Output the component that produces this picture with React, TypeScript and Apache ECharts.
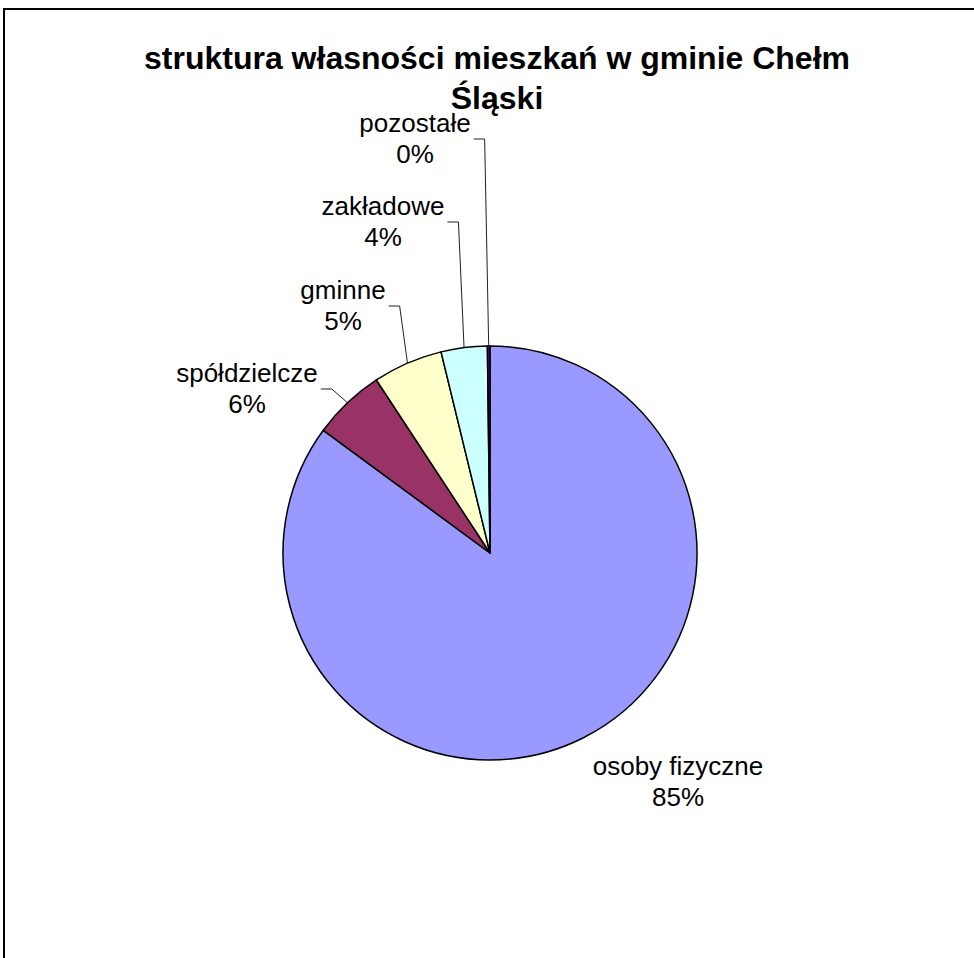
import React, { useEffect, useRef } from "react";
import * as echarts from "echarts";

const categories = ["osoby fizyczne", "spółdzielcze", "gminne", "zakładowe", "pozostałe"];
const shares = [85.1, 5.65, 5.45, 3.6, 0.2];
const colors = ["#9999FF", "#993366", "#FFFFCC", "#CCFFFF", "#660066"];
const titleText = "struktura własności mieszkań w gminie Chełm\nŚląski";

// label block centres (layout only)
const labelPos: number[][] = [
  [678, 781],
  [247, 388],
  [343, 305],
  [383, 221],
  [415, 138],
];

const FONT = 'Arial, "Liberation Sans", sans-serif';

export default function App() {
  const ref = useRef<HTMLDivElement>(null);
  useEffect(() => {
    if (!ref.current) return;
    const chart = echarts.init(ref.current, null, { renderer: "svg" });
    chart.setOption({
      animation: false,
      backgroundColor: "#ffffff",
      title: {
        text: titleText,
        left: 492,
        top: 33,
        textAlign: "center",
        textStyle: {
          fontFamily: FONT,
          fontSize: 32,
          fontWeight: "bold",
          color: "#000",
          lineHeight: 40,
        },
      },
      graphic: [
        {
          type: "line",
          shape: { x1: 3, y1: 9, x2: 1000, y2: 9 },
          style: { stroke: "#000", lineWidth: 2 },
          silent: true,
        },
        {
          type: "line",
          shape: { x1: 4, y1: 8, x2: 4, y2: 1000 },
          style: { stroke: "#000", lineWidth: 2 },
          silent: true,
        },
      ],
      series: [
        {
          type: "pie",
          center: [490, 553],
          radius: 207,
          startAngle: 90,
          clockwise: true,
          data: categories.map((c, i) => ({
            name: c,
            value: shares[i],
            itemStyle: { color: colors[i] },
            labelLine: { show: i !== 0 },
          })),
          itemStyle: { borderColor: "#000", borderWidth: 1.5 },
          label: {
            show: true,
            formatter: (p: any) => `${p.name}\n${Math.round(p.percent)}%`,
            fontFamily: FONT,
            fontSize: 26,
            lineHeight: 31,
            color: "#000",
            align: "center",
          },
          labelLine: {
            show: true,
            length: 10,
            length2: 10,
            lineStyle: { color: "#222", width: 1 },
          },
          labelLayout: (params: any) => {
            const i = params.dataIndex;
            const [x, y] = labelPos[i];
            const res: any = { x, y, align: "center", verticalAlign: "middle" };
            if (i !== 0 && params.labelLinePoints) {
              const w = params.labelRect.width;
              const right = x + w / 2 + 3;
              const ly = y + 1;
              const start = params.labelLinePoints[0];
              res.labelLinePoints = [
                [start[0], start[1]],
                [right + 11, ly],
                [right, ly],
              ];
            }
            return res;
          },
          emphasis: { disabled: true },
        },
      ],
    });
    return () => chart.dispose();
  }, []);
  return (
    <div
      ref={ref}
      style={{ position: "absolute", left: 0, top: 0, width: 974, height: 958, background: "#fff" }}
    />
  );
}
